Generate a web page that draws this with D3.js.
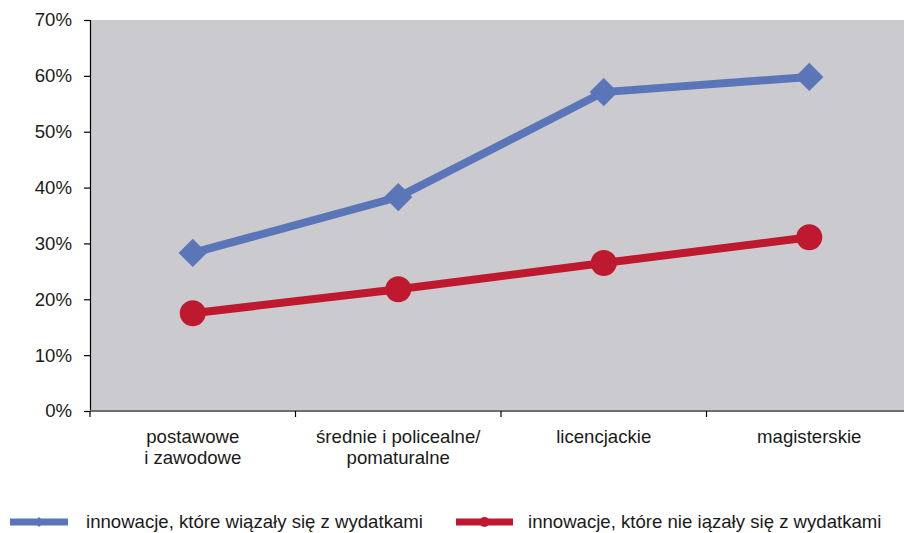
<!DOCTYPE html>
<html>
<head>
<meta charset="utf-8">
<script src="https://cdn.jsdelivr.net/npm/d3@7/dist/d3.min.js"></script>
<style>
  html, body { margin: 0; padding: 0; background: #fff; }
  svg { display: block; font-family: "Liberation Sans", Arial, sans-serif; }
</style>
</head>
<body>
<svg id="chart" width="904" height="533"></svg>
<script>
// Education levels (x categories), each label split into lines
const categories = [
  ["postawowe", "i zawodowe"],
  ["średnie i policealne/", "pomaturalne"],
  ["licencjackie"],
  ["magisterskie"]
];
// Share of firms (%) per education level
const withSpending = [28.3, 38.3, 57.1, 59.8];
const withoutSpending = [17.5, 21.8, 26.5, 31.1];
const yTicks = [0, 10, 20, 30, 40, 50, 60, 70];
const seriesNames = [
  "innowacje, które wiązały się z wydatkami",
  "innowacje, które nie iązały się z wydatkami"
];

const blue = "#5a76b8";
const red = "#be192f";
const fs = 18.6;

const svg = d3.select("#chart");
const m = { left: 90, top: 20, right: -8, bottom: 122 };
const W = 904, H = 533;
const plotW = W - m.left - m.right;   // 822
const plotH = H - m.top - m.bottom;   // 391

const x = d3.scaleBand().domain(d3.range(categories.length)).range([m.left, m.left + plotW]);
const y = d3.scaleLinear().domain([0, 70]).range([m.top + plotH, m.top]);

// plot background
svg.append("rect")
  .attr("x", m.left).attr("y", m.top)
  .attr("width", plotW).attr("height", plotH)
  .attr("fill", "#cbcacf");

// y axis
const yAxis = svg.append("g")
  .attr("transform", `translate(${m.left},0)`)
  .call(d3.axisLeft(y).tickValues(yTicks).tickFormat(d => d + "%").tickSize(6).tickPadding(12));
yAxis.select(".domain").attr("stroke", "#000").attr("stroke-width", 1.2);
yAxis.selectAll(".tick line").attr("stroke", "#000").attr("stroke-width", 1.2);
yAxis.selectAll("text").attr("font-size", fs).attr("fill", "#1a1a1a")
  .attr("font-family", "Liberation Sans, Arial, sans-serif");

// x axis: boundary ticks between categories
const xAxisG = svg.append("g").attr("transform", `translate(0,${y(0)})`);
xAxisG.append("line")
  .attr("x1", m.left).attr("x2", m.left + plotW)
  .attr("stroke", "#6e6e6e").attr("stroke-width", 2.2);
const bounds = d3.range(categories.length + 1).map(i => m.left + i * x.step());
xAxisG.selectAll("line.tk").data(bounds).join("line")
  .attr("class", "tk")
  .attr("x1", d => d).attr("x2", d => d)
  .attr("y1", 0).attr("y2", 6)
  .attr("stroke", "#000").attr("stroke-width", 1.2);

// category labels
const lab = svg.append("g").attr("font-size", fs).attr("fill", "#1a1a1a").attr("text-anchor", "middle");
categories.forEach((lines, i) => {
  const t = lab.append("text").attr("x", x(i) + x.bandwidth() / 2).attr("y", y(0) + 32);
  lines.forEach((ln, j) => {
    t.append("tspan").attr("x", x(i) + x.bandwidth() / 2).attr("dy", j === 0 ? 0 : 21).text(ln);
  });
});

const cx = i => x(i) + x.bandwidth() / 2;
const line = d3.line().x((d, i) => cx(i)).y(d => y(d));

// series lines
svg.append("path").datum(withoutSpending).attr("d", line)
  .attr("fill", "none").attr("stroke", red).attr("stroke-width", 8);
svg.append("path").datum(withSpending).attr("d", line)
  .attr("fill", "none").attr("stroke", blue).attr("stroke-width", 8);

// markers
const diamond = d3.symbol().type(d3.symbolSquare).size(400);
svg.selectAll("path.dm").data(withSpending).join("path")
  .attr("class", "dm")
  .attr("d", diamond)
  .attr("transform", (d, i) => `translate(${cx(i)},${y(d)}) rotate(45)`)
  .attr("fill", blue);
svg.selectAll("circle.ck").data(withoutSpending).join("circle")
  .attr("class", "ck")
  .attr("cx", (d, i) => cx(i)).attr("cy", d => y(d)).attr("r", 13)
  .attr("fill", red);

// legend
const legY = 522;
const leg = [
  { x0: 10, x1: 68, color: blue, name: seriesNames[0], tx: 86, mark: "d" },
  { x0: 456, x1: 513, color: red, name: seriesNames[1], tx: 528, mark: "c" }
];
leg.forEach(l => {
  svg.append("line").attr("x1", l.x0).attr("x2", l.x1).attr("y1", legY).attr("y2", legY)
    .attr("stroke", l.color).attr("stroke-width", 7);
  const mx = (l.x0 + l.x1) / 2;
  if (l.mark === "d") {
    svg.append("path").attr("d", d3.symbol().type(d3.symbolSquare).size(50))
      .attr("transform", `translate(${mx},${legY}) rotate(45)`).attr("fill", l.color);
  } else {
    svg.append("circle").attr("cx", mx).attr("cy", legY).attr("r", 5).attr("fill", l.color);
  }
  svg.append("text").attr("x", l.tx).attr("y", legY + 6)
    .attr("font-size", fs).attr("fill", "#1a1a1a").text(l.name);
});
</script>
</body>
</html>
